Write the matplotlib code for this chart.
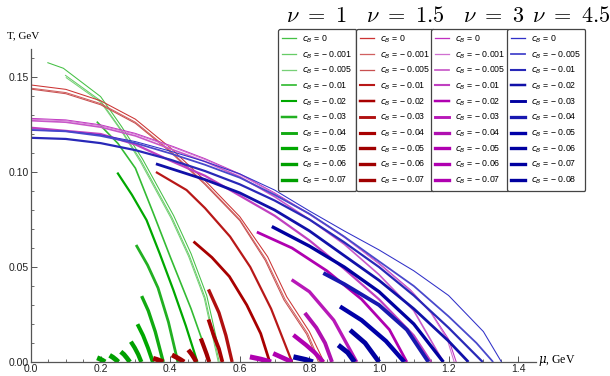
import matplotlib
matplotlib.use('Agg')
import matplotlib.pyplot as plt
from matplotlib.lines import Line2D

# c_B values for each nu (legend order)
cb_green = ['0', '- 0.001', '- 0.005', '- 0.01', '- 0.02', '- 0.03', '- 0.04', '- 0.05', '- 0.06', '- 0.07']
cb_red = ['0', '- 0.001', '- 0.005', '- 0.01', '- 0.02', '- 0.03', '- 0.04', '- 0.05', '- 0.06', '- 0.07']
cb_magenta = ['0', '- 0.001', '- 0.005', '- 0.01', '- 0.02', '- 0.03', '- 0.04', '- 0.05', '- 0.06', '- 0.07']
cb_blue = ['0', '- 0.005', '- 0.01', '- 0.02', '- 0.03', '- 0.04', '- 0.05', '- 0.06', '- 0.07', '- 0.08']

# nu = 1 : mu (GeV), T (GeV); the last two pieces are the small arcs near T = 0
green_mu = [
    [0.047, 0.093, 0.2, 0.26, 0.32, 0.41, 0.46, 0.505, 0.548],
    [0.098, 0.2, 0.26, 0.316, 0.405, 0.455, 0.5, 0.541],
    [0.1, 0.2, 0.26, 0.314, 0.403, 0.453, 0.498, 0.538],
    [0.189, 0.25, 0.30, 0.35, 0.4, 0.46, 0.514],
    [0.248, 0.29, 0.332, 0.37, 0.409, 0.445, 0.478],
    [0.302, 0.335, 0.365, 0.395, 0.422],
    [0.318, 0.337, 0.357, 0.38],
    [0.306, 0.322, 0.336, 0.35],
    [0.287, 0.298, 0.308, 0.317],
    [0.258, 0.267, 0.276, 0.284],
    [0.226, 0.235, 0.244, 0.251],
    [0.19, 0.198, 0.206, 0.213],
]
green_T = [
    [0.1576, 0.1546, 0.1397, 0.124, 0.107, 0.077, 0.057, 0.035, 0.0],
    [0.151, 0.1375, 0.122, 0.106, 0.076, 0.056, 0.034, 0.0],
    [0.1498, 0.1368, 0.1215, 0.1055, 0.0755, 0.0555, 0.0335, 0.0],
    [0.1265, 0.115, 0.102, 0.079, 0.0554, 0.028, 0.0],
    [0.0997, 0.088, 0.0747, 0.057, 0.0379, 0.019, 0.0],
    [0.0616, 0.051, 0.039, 0.021, 0.0],
    [0.0347, 0.027, 0.016, 0.0],
    [0.0199, 0.014, 0.0075, 0.0],
    [0.0107, 0.0075, 0.004, 0.0],
    [0.0054, 0.004, 0.002, 0.0],
    [0.0035, 0.0025, 0.0012, 0.0],
    [0.0022, 0.0016, 0.0008, 0.0],
]

# nu = 1.5
red_mu = [
    [0.0, 0.1, 0.2, 0.3, 0.4, 0.5, 0.6, 0.68, 0.735, 0.8, 0.842],
    [0.0, 0.1, 0.2, 0.3, 0.4, 0.5, 0.6, 0.675, 0.73, 0.795, 0.83],
    [0.0, 0.1, 0.2, 0.3, 0.4, 0.5, 0.6, 0.673, 0.727, 0.792, 0.826],
    [0.359, 0.447, 0.50, 0.572, 0.63, 0.69, 0.75],
    [0.467, 0.52, 0.57, 0.62, 0.66, 0.686],
    [0.51, 0.54, 0.56, 0.578],
    [0.51, 0.525, 0.54, 0.55],
    [0.488, 0.497, 0.505, 0.512],
    [0.452, 0.462, 0.469, 0.475],
    [0.405, 0.418, 0.43, 0.44],
    [0.351, 0.362, 0.372, 0.38],
]
red_T = [
    [0.1458, 0.1435, 0.1375, 0.1278, 0.1128, 0.0955, 0.0765, 0.0554, 0.0343, 0.016, 0.0],
    [0.1441, 0.1418, 0.136, 0.1262, 0.1112, 0.094, 0.075, 0.054, 0.033, 0.015, 0.0],
    [0.1436, 0.1412, 0.1354, 0.1256, 0.1106, 0.0934, 0.0744, 0.0535, 0.0326, 0.0146, 0.0],
    [0.1, 0.0905, 0.081, 0.066, 0.05, 0.028, 0.0],
    [0.0634, 0.055, 0.045, 0.03, 0.015, 0.0],
    [0.0382, 0.026, 0.014, 0.0],
    [0.0224, 0.014, 0.007, 0.0],
    [0.0124, 0.008, 0.004, 0.0],
    [0.0064, 0.004, 0.002, 0.0],
    [0.0037, 0.0025, 0.0012, 0.0],
    [0.0019, 0.0013, 0.0006, 0.0],
]

# nu = 3
magenta_mu = [
    [0.0, 0.1, 0.2, 0.3, 0.41, 0.5, 0.6, 0.7, 0.8, 0.9, 1.0, 1.09, 1.15, 1.2, 1.222],
    [0.0, 0.1, 0.2, 0.3, 0.41, 0.5, 0.6, 0.7, 0.8, 0.9, 1.0, 1.09, 1.15, 1.196, 1.216],
    [0.0, 0.1, 0.2, 0.3, 0.4, 0.5, 0.6, 0.7, 0.8, 0.9, 1.0, 1.1, 1.185],
    [0.0, 0.2, 0.3, 0.4, 0.5, 0.572, 0.7, 0.8, 0.9, 1.0, 1.1, 1.15],
    [0.649, 0.75, 0.85, 0.95, 1.03, 1.08],
    [0.749, 0.8, 0.87, 0.936],
    [0.787, 0.82, 0.845, 0.865],
    [0.754, 0.79, 0.815, 0.84],
    [0.696, 0.72, 0.75],
    [0.629, 0.66, 0.69],
]
magenta_T = [
    [0.1282, 0.1274, 0.1248, 0.1203, 0.1133, 0.107, 0.099, 0.089, 0.078, 0.066, 0.052, 0.038, 0.026, 0.012, 0.0],
    [0.1278, 0.127, 0.1244, 0.1199, 0.1129, 0.1066, 0.0986, 0.0886, 0.0776, 0.0656, 0.0516, 0.0376, 0.0256, 0.012, 0.0],
    [0.127, 0.1262, 0.1236, 0.119, 0.1122, 0.1055, 0.0975, 0.087, 0.075, 0.062, 0.046, 0.027, 0.0],
    [0.1233, 0.12, 0.1145, 0.106, 0.098, 0.0905, 0.077, 0.064, 0.049, 0.033, 0.014, 0.0],
    [0.0684, 0.06, 0.048, 0.033, 0.017, 0.0],
    [0.0433, 0.037, 0.022, 0.0],
    [0.0258, 0.018, 0.01, 0.0],
    [0.0142, 0.009, 0.005, 0.0],
    [0.0045, 0.0025, 0.0],
    [0.0027, 0.0015, 0.0],
]

# nu = 4.5
blue_mu = [
    [0.0, 0.1, 0.2, 0.3, 0.4, 0.5, 0.6, 0.7, 0.8, 0.9, 1.0, 1.1, 1.2, 1.3, 1.352],
    [0.0, 0.1, 0.2, 0.3, 0.4, 0.5, 0.6, 0.7, 0.8, 0.9, 1.0, 1.1, 1.2, 1.28, 1.328],
    [0.0, 0.1, 0.2, 0.3, 0.4, 0.5, 0.6, 0.7, 0.8, 0.9, 1.0, 1.1, 1.2, 1.298],
    [0.359, 0.5, 0.6, 0.7, 0.8, 0.9, 1.0, 1.1, 1.2, 1.257],
    [0.692, 0.8, 0.9, 1.0, 1.1, 1.185],
    [0.84, 0.9, 1.0, 1.08, 1.142],
    [0.888, 0.95, 1.02, 1.073],
    [0.917, 0.96, 1.0],
    [0.883, 0.91, 0.93],
    [0.754, 0.79, 0.81],
]
blue_T = [
    [0.1221, 0.1215, 0.1195, 0.116, 0.111, 0.1055, 0.099, 0.0905, 0.0795, 0.069, 0.059, 0.048, 0.035, 0.016, 0.0],
    [0.1221, 0.1214, 0.119, 0.1152, 0.1098, 0.1038, 0.097, 0.088, 0.078, 0.066, 0.053, 0.04, 0.024, 0.01, 0.0],
    [0.118, 0.1174, 0.1152, 0.1115, 0.1065, 0.1005, 0.0935, 0.085, 0.075, 0.063, 0.05, 0.035, 0.018, 0.0],
    [0.1043, 0.096, 0.089, 0.08, 0.069, 0.056, 0.043, 0.028, 0.011, 0.0],
    [0.0713, 0.061, 0.05, 0.037, 0.02, 0.0],
    [0.0468, 0.041, 0.03, 0.017, 0.0],
    [0.0292, 0.022, 0.011, 0.0],
    [0.0168, 0.01, 0.0],
    [0.0089, 0.005, 0.0],
    [0.0027, 0.0012, 0.0],
]

# line widths (pt) and colours, one per drawn piece
green_lw = [0.75, 0.75, 0.75, 1.2, 1.6, 2.0, 2.4, 2.8, 3.1, 3.4, 3.6, 3.6]
red_lw = [0.75, 0.75, 0.75, 1.6, 2.0, 2.4, 2.7, 3.0, 3.3, 3.5, 3.6]
magenta_lw = [0.75, 0.75, 1.2, 1.6, 2.0, 2.4, 2.8, 3.1, 3.4, 3.6]
blue_lw = [0.75, 1.3, 1.6, 2.0, 2.4, 2.8, 3.1, 3.4, 3.6, 3.8]
green_cols = ['#44c044', '#66cc66', '#77d077', '#33bb33', '#00a800', '#22b022', '#11aa11', '#00a800', '#00a000', '#00a000', '#00a000', '#00a000']
red_cols = ['#cc3333', '#d06060', '#c85050', '#b81818', '#a80000', '#b01010', '#a80000', '#a00000', '#a00000', '#a00000', '#a00000']
magenta_cols = ['#c030c0', '#d070d0', '#c858c8', '#c040c0', '#b000b0', '#b818b8', '#b010b0', '#b000b0', '#b000b0', '#b000b0']
blue_cols = ['#3030c8', '#4848cc', '#2828b8', '#1010a8', '#0000a0', '#1818b0', '#0000a8', '#0000a0', '#0000a0', '#0000a0']

families = [
    (r'$\nu\ =\ 1$', cb_green, green_mu, green_T, green_lw, green_cols),
    (r'$\nu\ =\ 1.5$', cb_red, red_mu, red_T, red_lw, red_cols),
    (r'$\nu\ =\ 3$', cb_magenta, magenta_mu, magenta_T, magenta_lw, magenta_cols),
    (r'$\nu\ =\ 4.5$', cb_blue, blue_mu, blue_T, blue_lw, blue_cols),
]

plt.rcParams['font.family'] = ['Liberation Sans', 'DejaVu Sans']
plt.rcParams['mathtext.fontset'] = 'dejavusans'

fig = plt.figure(figsize=(6.1, 3.76), dpi=100)
ax = fig.add_axes([31 / 610, 14 / 376, 504.6 / 610, 313.5 / 376])

for title, cbs, mus, Ts, lws, cols in families:
    for i in range(len(mus)):
        ax.plot(mus[i], Ts[i], color=cols[i], lw=lws[i], solid_capstyle='butt')

ax.set_xlim(0, 1.45)
ax.set_ylim(0, 0.165)
for s in ['top', 'right']:
    ax.spines[s].set_visible(False)
for s in ['left', 'bottom']:
    ax.spines[s].set_color('#555555')
    ax.spines[s].set_linewidth(0.9)

ax.set_xticks([0.0, 0.2, 0.4, 0.6, 0.8, 1.0, 1.2, 1.4])
ax.set_xticks([0.05 * k for k in range(29) if k % 4], minor=True)
ax.set_yticks([0.0, 0.05, 0.10, 0.15])
ax.set_yticks([0.01 * k for k in range(17) if k % 5], minor=True)
ax.set_xticklabels(['0.0', '0.2', '0.4', '0.6', '0.8', '1.0', '1.2', '1.4'])
ax.set_yticklabels(['0.00', '0.05', '0.10', '0.15'])
ax.tick_params(which='both', direction='in', colors='#555555', labelcolor='#222222', labelsize=7.5, pad=1.5)
ax.tick_params(which='major', length=4, width=0.7)
ax.tick_params(which='minor', length=2.2, width=0.6)

fig.text(7 / 610, 1 - 36 / 376, 'T, GeV', family='Liberation Serif', fontsize=8, va='center', ha='left')
fig.text(538 / 610, 1 - 361 / 376, r'$\mu$, GeV', family='Liberation Serif', math_fontfamily='dejavuserif',
         fontsize=8.5, va='center', ha='left')

# four legend boxes with nu titles above
box_left = [278, 356, 431, 507]
title_x = [316, 405, 494, 571]
for k, (title, cbs, mus, Ts, lws, cols) in enumerate(families):
    handles = [Line2D([], [], color=cols[i], lw=min(lws[i] * 0.7 + 0.4, 2.4)) for i in range(len(cbs))]
    labels = [r'$c_B$ = ' + cb.replace('-', '\u2212') for cb in cbs]
    leg = fig.legend(handles, labels, loc='upper left', bbox_to_anchor=(box_left[k] / 610, 1 - 29 / 376),
                     fontsize=6.3, handlelength=1.6, handletextpad=0.6, labelspacing=0.48,
                     borderpad=0.5, borderaxespad=0, fancybox=True, frameon=True)
    fr = leg.get_frame()
    fr.set_edgecolor('#444444')
    fr.set_linewidth(0.9)
    fr.set_alpha(1)
    fig.text(title_x[k] / 610, 1 - 16 / 376, title, math_fontfamily='cm', fontsize=16, ha='center', va='center')

fig.savefig('out.png', dpi=100)
